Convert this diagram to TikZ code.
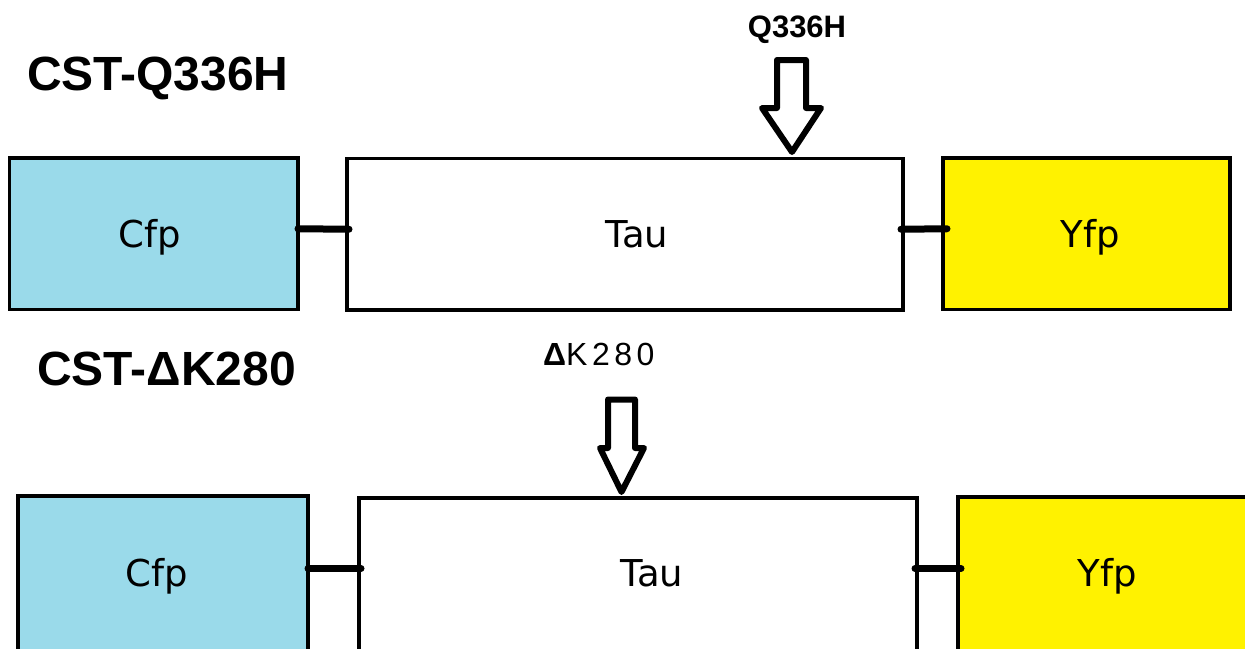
\documentclass[tikz,border=0pt]{standalone}
\usepackage{fontspec}
\setmainfont{Liberation Sans}
\newfontfamily\boxfont{DejaVu Sans}
\definecolor{cfpblue}{RGB}{154,218,234}
\definecolor{yfpyellow}{RGB}{255,242,0}
\begin{document}
\begin{tikzpicture}[x=1pt,y=-1pt,
  gbox/.style={draw=black,line width=3.2pt,inner sep=0pt,outer sep=0pt,anchor=north west,rectangle},
  boxtext/.style={anchor=base,inner sep=0pt,font=\boxfont\fontsize{37}{40}\selectfont},
  title/.style={anchor=base west,inner sep=0pt,font=\bfseries\fontsize{48}{52}\selectfont},
  mutlabel/.style={anchor=base,inner sep=0pt,font=\fontsize{31}{34}\selectfont},
  conn/.style={draw=black,line width=7pt,line cap=round},
  blockarrow/.style={draw=black,line width=6pt,fill=white,line join=round}]
\useasboundingbox (0,0) rectangle (1245,648);
\clip (0,0) rectangle (1245,648);
% row 1
\node[gbox,fill=cfpblue,minimum width=288.5pt,minimum height=151.5pt] (cfp1) at (9.5,158) {};
\node[gbox,fill=white,minimum width=556pt,minimum height=151.5pt] (tau1) at (347,158.5) {};
\node[gbox,fill=yfpyellow,minimum width=287pt,minimum height=151.5pt] (yfp1) at (943,158) {};
\node[boxtext] (cfp1t) at (150,247) {Cfp};
\node[boxtext] (tau1t) at (637,247) {Tau};
\node[boxtext] (yfp1t) at (1090,247) {Yfp};
\draw[conn] ([yshift=5pt]cfp1.east) -- ([yshift=5pt,xshift=2pt]tau1.west);
\draw[conn] ([yshift=5pt,xshift=-2pt]tau1.east) -- ([yshift=5pt,xshift=4pt]yfp1.west);
\node[title] (t1) at (27,90) {CST-Q336H};
\node[mutlabel,font=\bfseries\fontsize{31}{34}\selectfont] (m1) at (797,37) {Q336H};
\draw[blockarrow] (777,60) -- (806,60) -- (806,108) -- (821,108) -- (792,152) -- (762,108) -- (777,108) -- cycle;
% row 2
\node[gbox,fill=cfpblue,minimum width=290pt,minimum height=230pt] (cfp2) at (18,496) {};
\node[gbox,fill=white,minimum width=558pt,minimum height=230pt] (tau2) at (359,498) {};
\node[gbox,fill=yfpyellow,minimum width=310pt,minimum height=230pt] (yfp2) at (958,497) {};
\node[boxtext] (cfp2t) at (157,586) {Cfp};
\node[boxtext] (tau2t) at (652,586) {Tau};
\node[boxtext] (yfp2t) at (1107,586) {Yfp};
\coordinate (r2l) at (308,568.5);
\coordinate (r2m) at (361,568.5);
\coordinate (r2n) at (915,568.5);
\coordinate (r2r) at (961,568.5);
\draw[conn] (cfp2.east |- r2l) -- (r2m);
\draw[conn] (r2n) -- (r2r);
\node[title] (t2) at (37,385) {CST-ΔK280};
\node[mutlabel,anchor=base west,font=\fontsize{32}{34}\selectfont] (m2) at (543,365) {\textbf{Δ}\addfontfeature{LetterSpace=14}K280};
\draw[blockarrow] (608,399.5) -- (635,399.5) -- (635,448) -- (644,448) -- (621.5,492) -- (600,448) -- (608,448) -- cycle;
\end{tikzpicture}
\end{document}
